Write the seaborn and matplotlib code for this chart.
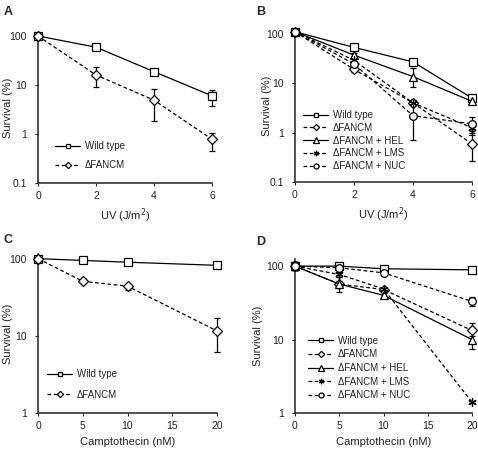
import matplotlib
matplotlib.use("Agg")
import matplotlib.pyplot as plt
import seaborn as sns
import numpy as np
import pandas as pd
from matplotlib.ticker import FixedLocator, FixedFormatter, NullLocator

sns.set_style("ticks")
plt.rcParams["font.family"] = ["Liberation Sans", "DejaVu Sans"]

# ---------------- data ----------------
uv_dose = [0, 2, 4, 6]
camp_dose = [0, 5, 10, 20]

# Panel A
A_wt = [100, 59, 18.7, 6.0]
A_wt_lo = [100, 52, 18.7, 3.8]
A_wt_hi = [100, 62, 18.7, 8.0]
A_fancm = [100, 16, 4.9, 0.78]
A_fancm_lo = [100, 8.9, 1.8, 0.45]
A_fancm_hi = [100, 23, 8.2, 1.07]

# Panel B
B_wt = [110, 53, 27, 5.0]
B_wt_lo = [110, 53, 27, 4.6]
B_wt_hi = [110, 53, 27, 5.4]
B_fancm = [110, 19, 4.0, 0.59]
B_fancm_lo = [110, 17, 3.6, 0.27]
B_fancm_hi = [110, 22, 4.5, 1.1]
B_hel = [110, 37, 13.6, 4.3]
B_hel_lo = [110, 34, 8.5, 4.0]
B_hel_hi = [110, 40, 20, 4.7]
B_lms = [110, 29, 4.0, 1.25]
B_lms_lo = [110, 27, 3.6, 0.9]
B_lms_hi = [110, 31, 4.6, 1.6]
B_nuc = [110, 24.5, 2.2, 1.5]
B_nuc_lo = [110, 22, 0.72, 1.0]
B_nuc_hi = [110, 27, 4.0, 2.1]

# Panel C
C_wt = [100, 95, 90, 82]
C_wt_lo = [100, 95, 90, 82]
C_wt_hi = [100, 95, 90, 82]
C_fancm = [100, 51, 44, 11.6]
C_fancm_lo = [100, 48, 39, 6.1]
C_fancm_hi = [100, 54, 47, 17]

# Panel D
D_wt = [100, 100, 92, 89]
D_wt_lo = [88, 97, 90, 87]
D_wt_hi = [113, 103, 94, 91]
D_fancm = [100, 57, 48, 13.3]
D_fancm_lo = [88, 45, 45, 11.3]
D_fancm_hi = [113, 72, 51, 17]
D_hel = [100, 57, 40, 10]
D_hel_lo = [88, 52, 37, 7.4]
D_hel_hi = [113, 62, 44, 13]
D_lms = [100, 77, 49, 1.4]
D_lms_lo = [88, 72, 46, 1.35]
D_lms_hi = [113, 82, 52, 1.45]
D_nuc = [100, 95, 81, 33]
D_nuc_lo = [88, 90, 75, 29]
D_nuc_hi = [113, 100, 88, 38]

labels = ["Wild type", "\u0394FANCM", "\u0394FANCM + HEL", "\u0394FANCM + LMS", "\u0394FANCM + NUC"]
styles = {
    "Wild type": dict(marker="s", ls="-", ms=5.5),
    "\u0394FANCM": dict(marker="D", ls=(0, (3, 2)), ms=4.8),
    "\u0394FANCM + HEL": dict(marker="^", ls="-", ms=6),
    "\u0394FANCM + LMS": dict(marker=(6, 2, 0), ls=(0, (3, 2)), ms=6),
    "\u0394FANCM + NUC": dict(marker="o", ls=(0, (3, 2)), ms=5.5),
}

W, H = 478, 454
fig = plt.figure(figsize=(W / 100, H / 100), dpi=100)


def make_ax(x0px, x1px, ybot_px, ytop_px):
    return fig.add_axes([x0px / W, 1 - ybot_px / H, (x1px - x0px) / W, (ybot_px - ytop_px) / H])


def draw(ax, x, series, xlim, xticks, ylim, yticks, ylabels, xlabel, leg_anchor, leg_spacing, ylab_x):
    for name, (y, lo, hi) in series.items():
        st = styles[name]
        y = np.array(y, float)
        lo = np.array(lo, float)
        hi = np.array(hi, float)
        ax.errorbar(x, y, yerr=[y - lo, hi - y], fmt="none", ecolor="black",
                    elinewidth=0.9, capsize=2.2, capthick=0.9, zorder=2, clip_on=False)
        df = pd.DataFrame({"x": x, "y": y})
        sns.lineplot(data=df, x="x", y="y", ax=ax, color="black", linestyle=st["ls"],
                     linewidth=0.9, marker=st["marker"], markersize=st["ms"],
                     markerfacecolor="white", markeredgecolor="black", markeredgewidth=0.9,
                     label=name, zorder=3, clip_on=False, errorbar=None)
    ax.set_yscale("log")
    ax.set_xlim(*xlim)
    ax.set_ylim(*ylim)
    ax.yaxis.set_major_locator(FixedLocator(yticks))
    ax.yaxis.set_major_formatter(FixedFormatter(ylabels))
    ax.yaxis.set_minor_locator(NullLocator())
    ax.set_xticks(xticks)
    ax.set_xticklabels([str(t) for t in xticks])
    for s in ["top", "right"]:
        ax.spines[s].set_visible(False)
    for s in ["left", "bottom"]:
        ax.spines[s].set_linewidth(1.2)
        ax.spines[s].set_color("#333333")
    ax.tick_params(axis="both", direction="out", length=2.5, width=0.8, labelsize=7.5,
                   colors="#222222")
    ax.tick_params(axis="y", pad=5.5)
    ax.tick_params(axis="x", pad=3)
    ax.set_xlabel(xlabel, fontsize=8, color="#222222", labelpad=4.5)
    ax.set_ylabel("Survival (%)", fontsize=8, color="#222222")
    ax.yaxis.set_label_coords(ylab_x, 0.5)
    leg = ax.legend(loc="center left", bbox_to_anchor=leg_anchor, frameon=False,
                    fontsize=7, handlelength=2.6, handletextpad=0.5, labelspacing=leg_spacing,
                    borderpad=0, borderaxespad=0, markerscale=0.65)
    for t in leg.get_texts():
        t.set_color("#222222")


# Panel A
axA = make_ax(38, 212, 183, 33)
draw(axA, uv_dose,
     {"Wild type": (A_wt, A_wt_lo, A_wt_hi), "\u0394FANCM": (A_fancm, A_fancm_lo, A_fancm_hi)},
     (0, 6), [0, 2, 4, 6], (0.1, 115), [0.1, 1, 10, 100], ["0.1", "1", "10", "100"],
     "UV (J/m$^2$)", (0.098, 0.183), 0.95, (13 - 38) / 174)

# Panel B
axB = make_ax(295, 472, 182, 29)
draw(axB, uv_dose,
     {"Wild type": (B_wt, B_wt_lo, B_wt_hi), "\u0394FANCM": (B_fancm, B_fancm_lo, B_fancm_hi),
      "\u0394FANCM + HEL": (B_hel, B_hel_lo, B_hel_hi), "\u0394FANCM + LMS": (B_lms, B_lms_lo, B_lms_hi),
      "\u0394FANCM + NUC": (B_nuc, B_nuc_lo, B_nuc_hi)},
     (0, 6), [0, 2, 4, 6], (0.1, 125), [0.1, 1, 10, 100], ["0.1", "1", "10", "100"],
     "UV (J/m$^2$)", (0.045, 0.271), 0.28, (272 - 295) / 177)

# Panel C
axC = make_ax(38, 217, 413, 254)
draw(axC, camp_dose,
     {"Wild type": (C_wt, C_wt_lo, C_wt_hi), "\u0394FANCM": (C_fancm, C_fancm_lo, C_fancm_hi)},
     (0, 20), [0, 5, 10, 15, 20], (1, 115), [1, 10, 100], ["1", "10", "100"],
     "Camptothecin (nM)", (0.05, 0.18), 1.1, (13 - 38) / 179)

# Panel D
axD = make_ax(295, 472, 413, 259)
draw(axD, camp_dose,
     {"Wild type": (D_wt, D_wt_lo, D_wt_hi), "\u0394FANCM": (D_fancm, D_fancm_lo, D_fancm_hi),
      "\u0394FANCM + HEL": (D_hel, D_hel_lo, D_hel_hi), "\u0394FANCM + LMS": (D_lms, D_lms_lo, D_lms_hi),
      "\u0394FANCM + NUC": (D_nuc, D_nuc_lo, D_nuc_hi)},
     (0, 20), [0, 5, 10, 15, 20], (1, 125), [1, 10, 100], ["1", "10", "100"],
     "Camptothecin (nM)", (0.073, 0.292), 0.38, (263 - 295) / 177)

# Panel letters
for letter, (px, py) in {"A": (4, 12), "B": (256, 12), "C": (4, 240), "D": (256, 242)}.items():
    fig.text(px / W, 1 - py / H, letter, fontsize=9, fontweight="bold", va="center", ha="left")

fig.savefig("out.png", dpi=100)
